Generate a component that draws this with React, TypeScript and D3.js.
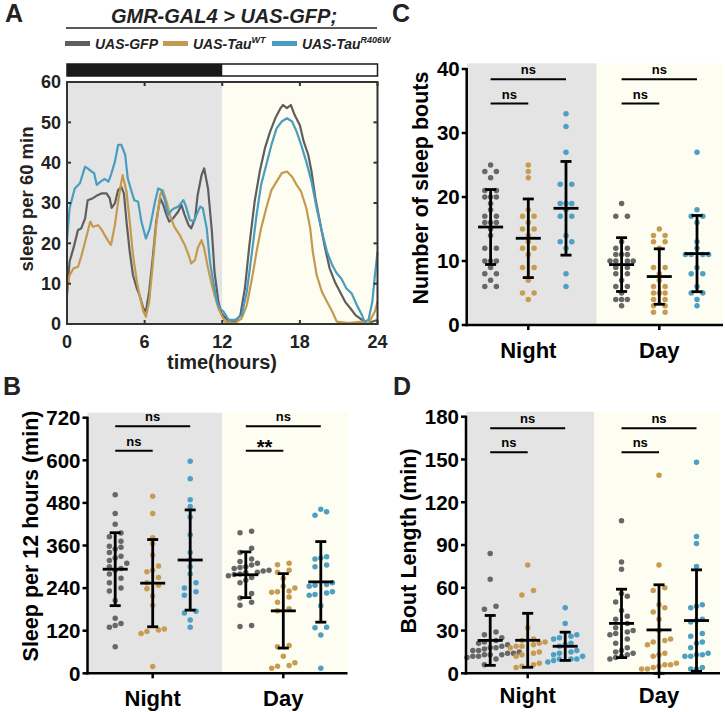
import React from "react";
import * as d3 from "d3";

const FONT = "'Liberation Sans', Arial, Helvetica, sans-serif";
const DOT_COLORS = ["#676767", "#c79c52", "#4d9fc3"];
const LINE_COLORS = ["#5e5e5e", "#c49a4e", "#4a9dbe"];
const NIGHT_BG = "#e4e4e4";
const DAY_BG = "#fdfdf1";

// ---------- categories / labels ----------
const genotypes = ["UAS-GFP", "UAS-Tau", "UAS-Tau"];
const genotypeSup = ["", "WT", "R406W"];
const periods = ["Night", "Day"];
const hourTicks = [0, 6, 12, 18, 24];
const sleepTicksA = [0, 10, 20, 30, 40, 50, 60];
const sleepTicksB = [0, 120, 240, 360, 480, 600, 720];
const boutTicksC = [0, 10, 20, 30, 40];
const lengthTicksD = [0, 30, 60, 90, 120, 150, 180];

// ---------- Panel A: sleep profile [hour, sleep per 60 min] ----------
const profileGFP: [number, number][] = [
  [0, 7.2], [0.2, 15.5], [0.5, 18.8], [0.85, 23.3], [1.1, 23.7], [1.4, 26.2], [1.6, 30.7], [2.0, 31.2],
  [2.4, 32], [2.7, 32.4], [3.05, 32.4], [3.3, 31.2], [3.45, 28.8], [3.7, 29.9], [3.95, 33.2], [4.2, 34],
  [4.4, 32.4], [4.6, 25.4], [4.85, 17.9], [5.1, 12.1], [5.4, 8.8], [5.6, 7.2], [5.9, 3.9], [6.1, 3.1],
  [6.35, 8], [6.6, 15.5], [6.9, 25.4], [7.2, 31.2], [7.4, 29.9], [7.7, 27], [7.9, 25.4], [8.2, 26.2],
  [8.6, 27.9], [8.85, 29.5], [9.1, 27], [9.4, 24.5], [9.6, 23.7], [9.9, 26.2], [10.1, 32], [10.4, 36.9],
  [10.6, 38.6], [10.9, 33.6], [11.2, 22.9], [11.4, 13], [11.7, 5.5], [11.95, 2.6], [12.5, 0.6], [13.0, 0.6],
  [13.4, 2.2], [13.75, 8.8], [14.1, 19.6], [14.5, 30.3], [14.9, 37.8], [15.3, 43.6], [15.7, 47.7], [16.1, 51],
  [16.5, 53.5], [16.7, 54.3], [17.0, 53.5], [17.3, 54.3], [17.6, 51.8], [18.0, 49.3], [18.3, 45.2], [18.65, 41.9],
  [18.9, 37.8], [19.2, 31.2], [19.6, 24.5], [19.95, 18.8], [20.3, 13.8], [20.7, 10.5], [21.1, 8], [21.5, 5.5],
  [21.9, 3.9], [22.3, 2.2], [22.8, 1], [23.2, 0.2], [23.5, 0.5], [24, 1],
];
const profileTauWT: [number, number][] = [
  [0, 8.8], [0.2, 12.1], [0.5, 13.8], [0.85, 14.2], [1.1, 16.7], [1.4, 20.4], [1.8, 25.4], [2.0, 24.1],
  [2.4, 24.5], [2.7, 23.3], [2.9, 22.1], [3.3, 20], [3.4, 19.6], [3.7, 24.5], [3.95, 30.3], [4.2, 35.3],
  [4.3, 36.9], [4.6, 32.8], [4.85, 25.4], [5.1, 17.1], [5.4, 10.5], [5.6, 7.2], [5.9, 3.1], [6.1, 1.8],
  [6.35, 5.5], [6.6, 13.8], [6.9, 24.5], [7.2, 32], [7.4, 33.2], [7.7, 30.3], [7.95, 27], [8.3, 24.1],
  [8.7, 22.1], [9.1, 19.6], [9.4, 17.1], [9.6, 15], [9.9, 15.9], [10.1, 18.8], [10.4, 20.8], [10.6, 18.8],
  [10.9, 13.8], [11.2, 9.7], [11.4, 7.2], [11.7, 3.9], [11.95, 2.2], [12.2, 0.6], [13.0, 0.2], [13.5, 1.4],
  [13.9, 4.7], [14.3, 11.3], [14.65, 17.9], [15.0, 23.7], [15.4, 28.7], [15.8, 33.2], [16.2, 35.3], [16.6, 37.4],
  [17.0, 37.8], [17.4, 36.5], [17.75, 34.5], [18.1, 32.8], [18.5, 28.7], [18.8, 23.7], [19.0, 17.9], [19.3, 12.1],
  [19.7, 8], [20.1, 5.5], [20.5, 3.1], [20.85, 0.6], [21.75, 0.2], [22.8, 0.6], [23.3, 0.2], [23.8, 3.1], [24, 5.5],
];
const profileTauR406W: [number, number][] = [
  [0, 20.8], [0.2, 28.7], [0.6, 33.6], [1.0, 34.9], [1.4, 39], [1.6, 38.6], [1.9, 37.8], [2.1, 37.4],
  [2.3, 34.5], [2.6, 35.3], [2.9, 36], [3.2, 35.3], [3.4, 37], [3.7, 40.2], [3.95, 44.4], [4.2, 44.4],
  [4.5, 41.9], [4.7, 36], [5.0, 32.8], [5.2, 30.7], [5.5, 30.3], [5.75, 25.4], [6.1, 21.2], [6.4, 23.7],
  [6.8, 30.3], [7.05, 33.6], [7.3, 33.2], [7.6, 30.3], [7.8, 27], [8.1, 28.3], [8.3, 28.7], [8.6, 29.1],
  [9.0, 30.7], [9.2, 29.1], [9.5, 25.8], [9.8, 25.4], [10.0, 27], [10.3, 29.1], [10.5, 28.7], [10.8, 23.7],
  [11.05, 15.5], [11.3, 10.5], [11.6, 5.5], [11.8, 3.9], [12.1, 3.1], [12.5, 1], [13.0, 1], [13.5, 2.2],
  [13.9, 8], [14.3, 17.9], [14.65, 27], [15.0, 34.5], [15.4, 39.4], [15.8, 44.4], [16.2, 48.5], [16.6, 50.2],
  [17.0, 51], [17.4, 50.2], [17.75, 47.7], [18.1, 44.4], [18.5, 40.2], [18.9, 35.3], [19.3, 28.7], [19.7, 22.9],
  [20.1, 17.9], [20.5, 14.6], [20.85, 12.6], [21.2, 11.3], [21.6, 8.8], [22.0, 7.6], [22.4, 4.7], [22.8, 2.2],
  [23.0, 0.6], [23.3, 1], [23.6, 5.5], [23.8, 12.1], [24, 17.9],
];

// ---------- Panel B: sleep per 12 h (min) ----------
const sleepNightGFP = [503, 450, 420, 395, 385, 372, 358, 355, 350, 340, 330, 325, 318, 310, 300, 295, 290, 280, 268, 255, 240, 232, 205, 155, 140, 135, 130, 75];
const sleepNightTauWT = [499, 450, 382, 365, 333, 302, 290, 286, 270, 255, 248, 238, 218, 192, 125, 122, 118, 112, 19];
const sleepNightTauR406W = [597, 548, 489, 470, 440, 390, 340, 320, 300, 280, 255, 240, 230, 220, 175, 170, 150, 130];
const sleepDayGFP = [400, 396, 352, 340, 322, 315, 310, 305, 300, 298, 295, 290, 288, 285, 283, 280, 278, 275, 270, 262, 255, 225, 212, 200, 192, 135, 132];
const sleepDayTauWT = [310, 306, 290, 285, 268, 245, 240, 232, 230, 228, 215, 200, 182, 176, 78, 75, 48, 30, 20, 22, 14];
const sleepDayTauR406W = [462, 455, 445, 328, 325, 322, 305, 300, 255, 250, 248, 245, 230, 226, 222, 220, 190, 130, 128, 108, 14];

// ---------- Panel C: number of sleep bouts ----------
const boutsNightGFP = [25, 24, 24, 23, 21, 21, 20, 20, 20, 19, 18, 17, 17, 16, 16, 16, 15, 14, 12, 12, 10, 10, 10, 9, 8, 8, 7, 6, 6];
const boutsNightTauWT = [25, 24, 23, 18, 17, 17, 16, 15, 15, 14, 13, 12, 12, 11, 9, 9, 7, 5, 5, 4];
const boutsNightTauR406W = [33, 31, 27, 22, 22, 19, 19, 19, 18, 17, 17, 14, 13, 13, 12, 8, 6];
const boutsDayGFP = [19, 17, 17, 13, 12, 12, 11, 11, 11, 10, 10, 10, 10, 9, 9, 8, 8, 7, 6, 6, 5, 4, 4, 4, 3];
const boutsDayTauWT = [15, 14, 14, 13, 13, 12, 9, 9, 8, 7, 6, 6, 5, 5, 5, 4, 4, 3, 3, 2, 2];
const boutsDayTauR406W = [27, 18, 17, 17, 16, 13, 12, 11, 11, 11, 11, 9, 8, 8, 6, 5, 5, 4, 3];

// ---------- Panel D: bout length (min) ----------
const lengthNightGFP = [84, 66, 47, 45, 29, 27, 25, 23, 22, 21, 20, 19, 18, 18, 17, 16, 16, 15, 14, 14, 13, 13, 13, 12, 12, 11, 10, 6];
const lengthNightTauWT = [76, 58, 55, 32, 24, 23, 22, 21, 20, 19, 19, 18, 15, 14, 13, 12, 7, 6, 5, 4];
const lengthNightTauR406W = [46, 35, 27, 26, 25, 24, 21, 20, 19, 16, 15, 14, 13, 12, 10, 10, 10, 9, 8];
const lengthDayGFP = [107, 78, 73, 56, 54, 50, 44, 40, 38, 35, 32, 30, 29, 28, 27, 24, 21, 18, 16, 15, 14, 13, 12, 11, 10];
const lengthDayTauWT = [139, 76, 60, 58, 48, 46, 43, 38, 30, 24, 23, 22, 20, 14, 13, 12, 7, 6, 6, 5, 4, 3, 3];
const lengthDayTauR406W = [148, 96, 91, 75, 48, 47, 46, 38, 37, 36, 28, 26, 22, 21, 18, 14, 13, 13, 12, 12, 4, 3, 3];

// significance annotations: [period, fromGroup, toGroup, value level, label]
type Sig = [string, number, number, number, string];
const sigB: Sig[] = [["Night", 0, 2, 696, "ns"], ["Night", 0, 1, 627, "ns"], ["Day", 0, 2, 696, "ns"], ["Day", 0, 1, 627, "**"]];
const sigC: Sig[] = [["Night", 0, 2, 38.4, "ns"], ["Night", 0, 1, 34.6, "ns"], ["Day", 0, 2, 38.4, "ns"], ["Day", 0, 1, 34.6, "ns"]];
const sigD: Sig[] = [["Night", 0, 2, 171.9, "ns"], ["Night", 0, 1, 155, "ns"], ["Day", 0, 2, 171.9, "ns"], ["Day", 0, 1, 155, "ns"]];

// ---------- helpers ----------
function swarmOffsets(ys: number[], d: number): number[] {
  const idx = ys.map((_, i) => i).sort((a, b) => ys[b] - ys[a]);
  const res = new Array(ys.length).fill(0);
  const placed: { x: number; y: number }[] = [];
  let i = 0;
  while (i < idx.length) {
    const start = ys[idx[i]];
    const grp: number[] = [];
    while (i < idx.length && Math.abs(ys[idx[i]] - start) < d) {
      grp.push(idx[i]);
      i++;
    }
    const n = grp.length;
    const slots: number[] = [];
    if (n % 2 === 1) for (let k = 0; k < n; k++) slots.push(k - (n - 1) / 2);
    else for (let k = 0; k < n; k++) { const m = k - n / 2; slots.push(m < 0 ? m : m + 1); }
    grp.forEach((pi, k) => {
      let s = slots[k];
      let tries = 0;
      while (placed.some((p) => (p.x - s * d) ** 2 + (p.y - ys[pi]) ** 2 < (d * 0.92) ** 2) && tries < 20) {
        s += s >= 0 ? 1 : -1;
        tries++;
      }
      res[pi] = s * d;
      placed.push({ x: s * d, y: ys[pi] });
    });
  }
  return res;
}

type Layout = {
  axisX: number; xEnd: number; yBottom: number; yTop: number;
  cNight: number; cDay: number; offset: number;
  bgTop: number; split: number; bgEnd: number;
  yLabel: string; yLabelX: number; yLabelY: number; catOff: number;
  letter: string; letterX: number; letterY: number;
};

function DotPanel({ layout, data, ticks, sig }: { layout: Layout; data: number[][][]; ticks: number[]; sig: Sig[] }) {
  const L = layout;
  const y = d3.scaleLinear().domain([0, ticks[ticks.length - 1]]).range([L.yBottom, L.yTop]);
  const x = d3.scalePoint<string>().domain(periods).range([L.cNight, L.cDay]);
  const gx = (p: string, g: number) => (x(p) as number) + (g - 1) * L.offset;
  return (
    <g>
      <rect x={L.axisX} y={L.bgTop} width={L.split - L.axisX} height={L.yBottom - L.bgTop} fill={NIGHT_BG} />
      <rect x={L.split} y={L.bgTop} width={L.bgEnd - L.split} height={L.yBottom - L.bgTop} fill={DAY_BG} />
      {periods.map((p, pi) =>
        data[pi].map((vals, g) => {
          const ys = vals.map((v) => y(v));
          const offs = swarmOffsets(ys, 5.8);
          const cx = gx(p, g);
          const m = d3.mean(vals) as number;
          const sd = d3.deviation(vals) as number;
          const lo = y(Math.max(0, m - sd));
          const hi = y(m + sd);
          return (
            <g key={p + g}>
              {vals.map((v, k) => (
                <circle key={k} cx={cx + offs[k]} cy={ys[k]} r={2.75} fill={DOT_COLORS[g]} />
              ))}
              <g stroke="#000" strokeWidth={2.8}>
                <line x1={cx} x2={cx} y1={lo} y2={hi} />
                <line x1={cx - 5.5} x2={cx + 5.5} y1={lo} y2={lo} />
                <line x1={cx - 5.5} x2={cx + 5.5} y1={hi} y2={hi} />
                <line x1={cx - 12.5} x2={cx + 12.5} y1={y(m)} y2={y(m)} />
              </g>
            </g>
          );
        })
      )}
      {sig.map(([p, a, b, lvl, lab], k) => {
        const x1 = gx(p, a);
        const x2 = gx(p, b);
        const yy = y(lvl);
        const star = lab !== "ns";
        return (
          <g key={"s" + k}>
            <line x1={x1} x2={x2} y1={yy} y2={yy} stroke="#000" strokeWidth={2} />
            <text x={(x1 + x2) / 2} y={star ? yy + 3.5 : yy - 5} textAnchor="middle" fontFamily={FONT} fontWeight="bold" fontSize={star ? 20 : 13}>
              {lab}
            </text>
          </g>
        );
      })}
      {/* axes */}
      <line x1={L.axisX} x2={L.axisX} y1={L.yBottom + 1.2} y2={L.yTop - 1} stroke="#000" strokeWidth={2.5} />
      <line x1={L.axisX - 1.2} x2={L.xEnd} y1={L.yBottom} y2={L.yBottom} stroke="#000" strokeWidth={2.5} />
      {ticks.map((t) => (
        <g key={t}>
          <line x1={L.axisX - 5} x2={L.axisX} y1={y(t)} y2={y(t)} stroke="#000" strokeWidth={2.5} />
          <text x={L.axisX - 7} y={y(t)} dy="0.36em" textAnchor="end" fontFamily={FONT} fontWeight="bold" fontSize={20.5}>
            {t}
          </text>
        </g>
      ))}
      {periods.map((p) => (
        <g key={p}>
          <line x1={x(p)} x2={x(p)} y1={L.yBottom} y2={L.yBottom + 5} stroke="#000" strokeWidth={2.5} />
          <text x={x(p)} y={L.yBottom + L.catOff} textAnchor="middle" fontFamily={FONT} fontWeight="bold" fontSize={22}>
            {p}
          </text>
        </g>
      ))}
      <text transform={`translate(${L.yLabelX},${L.yLabelY}) rotate(-90)`} textAnchor="middle" fontFamily={FONT} fontWeight="bold" fontSize={21.5}>
        {L.yLabel}
      </text>
      <text x={L.letterX} y={L.letterY} fontFamily={FONT} fontWeight="bold" fontSize={25} fill="#222">
        {L.letter}
      </text>
    </g>
  );
}

function PanelA() {
  const x = d3.scaleLinear().domain([0, 24]).range([67, 377.5]);
  const y = d3.scaleLinear().domain([0, 60]).range([324, 82]);
  const line = d3.line<[number, number]>().x((d) => x(d[0])).y((d) => y(d[1]));
  const series = [profileGFP, profileTauWT, profileTauR406W];
  const legendX = [65, 163, 272];
  return (
    <g>
      <text x={5} y={22} fontFamily={FONT} fontWeight="bold" fontSize={25} fill="#222">A</text>
      <text x={224} y={23} textAnchor="middle" fontFamily={FONT} fontWeight="bold" fontStyle="italic" fontSize={20} fill="#222">
        GMR-GAL4 &gt; UAS-GFP;
      </text>
      <line x1={66} x2={377} y1={28} y2={28} stroke="#222" strokeWidth={1.6} />
      {genotypes.map((gname, i) => (
        <g key={i}>
          <line x1={legendX[i]} x2={legendX[i] + 25} y1={43.5} y2={43.5} stroke={LINE_COLORS[i]} strokeWidth={5} />
          <text x={legendX[i] + 30} y={49} fontFamily={FONT} fontWeight="bold" fontStyle="italic" fontSize={14} fill="#222">
            {gname}
            {genotypeSup[i] && (
              <tspan fontSize={9} dy={-6}>{genotypeSup[i]}</tspan>
            )}
          </text>
        </g>
      ))}
      {/* light/dark bar */}
      <rect x={x(0)} y={64} width={x(24) - x(0)} height={12} fill="#fff" stroke="#1a1a1a" strokeWidth={1.5} />
      <rect x={x(0)} y={64} width={x(12) - x(0)} height={12} fill="#1a1a1a" />
      {/* backgrounds */}
      <rect x={x(0)} y={y(60)} width={x(12) - x(0)} height={y(0) - y(60)} fill={NIGHT_BG} />
      <rect x={x(12)} y={y(60)} width={x(24) - x(12)} height={y(0) - y(60)} fill={DAY_BG} />
      {series.map((s, i) => (
        <path key={i} d={line(s) as string} fill="none" stroke={LINE_COLORS[i]} strokeWidth={2.2} strokeLinejoin="round" />
      ))}
      <rect x={x(0)} y={y(60)} width={x(24) - x(0)} height={y(0) - y(60)} fill="none" stroke="#333" strokeWidth={2} />
      {hourTicks.map((t) => (
        <g key={t}>
          <line x1={x(t)} x2={x(t)} y1={y(0)} y2={y(0) - 4} stroke="#333" strokeWidth={2} />
          <line x1={x(t)} x2={x(t)} y1={y(60)} y2={y(60) + 4} stroke="#333" strokeWidth={2} />
          <text x={x(t)} y={347.5} textAnchor="middle" fontFamily={FONT} fontWeight="bold" fontSize={18} fill="#222">{t}</text>
        </g>
      ))}
      {sleepTicksA.map((t) => (
        <g key={t}>
          <line x1={x(0)} x2={x(0) + 4} y1={y(t)} y2={y(t)} stroke="#333" strokeWidth={2} />
          <line x1={x(24)} x2={x(24) - 4} y1={y(t)} y2={y(t)} stroke="#333" strokeWidth={2} />
          <text x={61} y={y(t)} dy="0.36em" textAnchor="end" fontFamily={FONT} fontWeight="bold" fontSize={18} fill="#222">{t}</text>
        </g>
      ))}
      <text x={222} y={369} textAnchor="middle" fontFamily={FONT} fontWeight="bold" fontSize={20} fill="#222">time(hours)</text>
      <text transform="translate(33,199) rotate(-90)" textAnchor="middle" fontFamily={FONT} fontWeight="bold" fontSize={18.5} fill="#222">
        sleep per 60 min
      </text>
    </g>
  );
}

const layoutB: Layout = {
  axisX: 87.5, xEnd: 347.5, yBottom: 673.3, yTop: 417.7, cNight: 152.7, cDay: 283.3, offset: 37.5,
  bgTop: 412.7, split: 222, bgEnd: 348, yLabel: "Sleep per 12 hours (min)", yLabelX: 37.5, yLabelY: 536, catOff: 33,
  letter: "B", letterX: 3, letterY: 395,
};
const layoutC: Layout = {
  axisX: 466.7, xEnd: 723, yBottom: 325, yTop: 69, cNight: 528.3, cDay: 659.3, offset: 37.7,
  bgTop: 63.3, split: 596.7, bgEnd: 723, yLabel: "Number of sleep bouts", yLabelX: 427.5, yLabelY: 188, catOff: 33,
  letter: "C", letterX: 392, letterY: 22,
};
const layoutD: Layout = {
  axisX: 466, xEnd: 720, yBottom: 673.3, yTop: 416.7, cNight: 527.7, cDay: 659, offset: 37.5,
  bgTop: 411.7, split: 594.3, bgEnd: 720, yLabel: "Bout Length (min)", yLabelX: 415.5, yLabelY: 541, catOff: 30,
  letter: "D", letterX: 393, letterY: 395,
};

export default function App() {
  const dataB = [
    [sleepNightGFP, sleepNightTauWT, sleepNightTauR406W],
    [sleepDayGFP, sleepDayTauWT, sleepDayTauR406W],
  ];
  const dataC = [
    [boutsNightGFP, boutsNightTauWT, boutsNightTauR406W],
    [boutsDayGFP, boutsDayTauWT, boutsDayTauR406W],
  ];
  const dataD = [
    [lengthNightGFP, lengthNightTauWT, lengthNightTauR406W],
    [lengthDayGFP, lengthDayTauWT, lengthDayTauR406W],
  ];
  return (
    <svg width={725} height={712} style={{ position: "absolute", left: 0, top: 0, background: "#fff" }}>
      <rect x={0} y={0} width={725} height={712} fill="#fff" />
      <PanelA />
      <DotPanel layout={layoutB} data={dataB} ticks={sleepTicksB} sig={sigB} />
      <DotPanel layout={layoutC} data={dataC} ticks={boutTicksC} sig={sigC} />
      <DotPanel layout={layoutD} data={dataD} ticks={lengthTicksD} sig={sigD} />
    </svg>
  );
}
